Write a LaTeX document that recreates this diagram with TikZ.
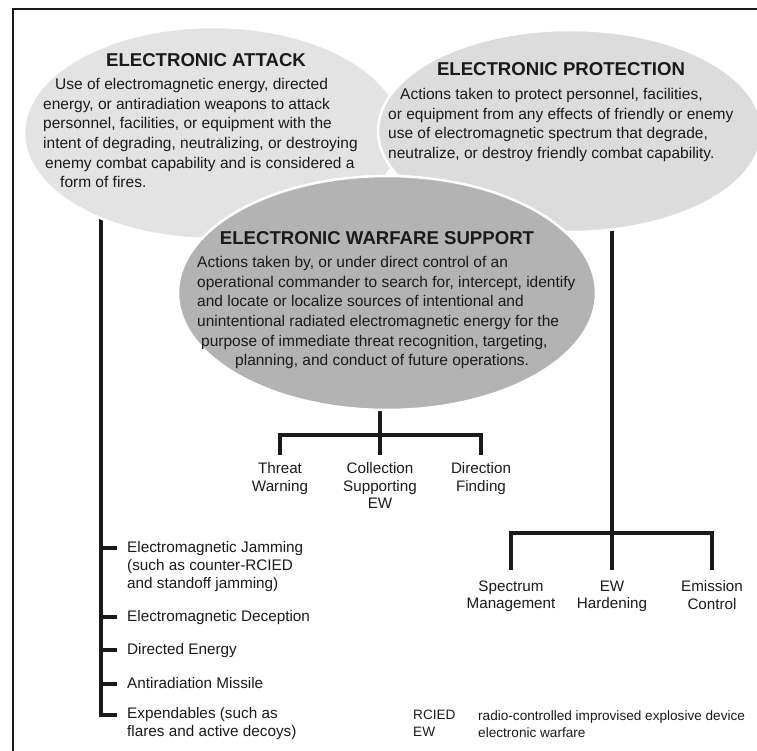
\documentclass[tikz,border=0pt]{standalone}
\usepackage{fontspec}
\setmainfont{Liberation Sans}
\usetikzlibrary{shapes.geometric,backgrounds}
\definecolor{eafill}{HTML}{E3E3E3}
\definecolor{epfill}{HTML}{DCDCDC}
\definecolor{ewsfill}{HTML}{B3B3B3}
\definecolor{ink}{HTML}{1A1A1A}
\begin{document}
\begin{tikzpicture}[x=1pt,y=-1pt,
  bubble/.style={ellipse, draw=white, line width=2.5pt, inner sep=0pt},
  ttl/.style={font=\fontsize{18.6}{22}\selectfont\bfseries, text=ink, inner sep=0pt, anchor=base},
  bodytext/.style={font=\fontsize{15.5}{19.7}\selectfont, text=ink, align=left, inner sep=0pt, anchor=north west},
  leaf/.style={font=\fontsize{15.2}{17.5}\selectfont, text=ink, align=center, inner sep=0pt, anchor=north},
  item/.style={font=\fontsize{15.3}{18}\selectfont, text=ink, align=left, inner sep=0pt, anchor=north west},
  legend/.style={font=\fontsize{13.6}{17}\selectfont, text=ink, align=left, inner sep=0pt, anchor=north west},
  conn/.style={draw=ink, line width=3.5pt, line cap=rect, line join=miter},
  frame/.style={draw=ink, line width=2pt}]
\useasboundingbox (0,0) rectangle (757,751);
% bubbles
\node[bubble, fill=eafill, minimum width=378pt, minimum height=212pt] (ea) at (213,133) {};
\node[bubble, fill=epfill, minimum width=384pt, minimum height=202pt] (ep) at (570,131) {};
\node[bubble, fill=ewsfill, minimum width=418pt, minimum height=234pt] (ews) at (387,293) {};
% titles
\node[ttl] (eat) at (206,67) {ELECTRONIC ATTACK};
\node[ttl] (ept) at (561,76) {ELECTRONIC PROTECTION};
\node[ttl] (ewst) at (377,245) {ELECTRONIC WARFARE SUPPORT};
% bodies
\node[bodytext] (eab) at (43,78) {\hspace*{12pt}Use of electromagnetic energy, directed\\
energy, or antiradiation weapons to attack\\
personnel, facilities, or equipment with the\\
intent of degrading, neutralizing, or destroying\\
\hspace*{2pt}enemy combat capability and is considered a\\
\hspace*{17pt}form of fires.};
\node[bodytext] (epb) at (388,88) {\hspace*{12pt}Actions taken to protect personnel, facilities,\\
or equipment from any effects of friendly or enemy\\
use of electromagnetic spectrum that degrade,\\
neutralize, or destroy friendly combat capability.};
\node[bodytext] (ewsb) at (197,256) {Actions taken by, or under direct control of an\\
operational commander to search for, intercept, identify\\
and locate or localize sources of intentional and\\
unintentional radiated electromagnetic energy for the\\
\hspace*{4pt}purpose of immediate threat recognition, targeting,\\
\hspace*{38pt}planning, and conduct of future operations.};
% EWS leaves
\node[leaf] (tw) at (280,462.5) {Threat\\Warning};
\node[leaf] (cs) at (380,462.5) {Collection\\Supporting\\EW};
\node[leaf] (df) at (481,462.5) {Direction\\Finding};
% EP leaves
\node[leaf] (sm) at (511,580.5) {Spectrum\\Management};
\node[leaf] (eh) at (612,580.5) {EW\\Hardening};
\node[leaf] (ec) at (712,580.5) {Emission\\Control};
% EA items
\node[item] (jam) at (127,541.5) {Electromagnetic Jamming\\(such as counter-RCIED\\and standoff jamming)};
\node[item] (dec) at (127,610.5) {Electromagnetic Deception};
\node[item] (de) at (127,643.5) {Directed Energy};
\node[item] (arm) at (127,677) {Antiradiation Missile};
\node[item] (exp) at (127,707.5) {Expendables (such as\\flares and active decoys)};
% legend
\node[legend] (abbr) at (413,710) {RCIED\\EW};
\node[legend] (defs) at (478,710) {radio-controlled improvised explosive device\\electronic warfare};
% connector coordinates
\coordinate (lx) at (101,0);
\coordinate (lcorner) at (101,715);
\coordinate (lend) at (115,715);
\coordinate (ewsx) at (380,0);
\coordinate (ewsbar) at (380,435);
\coordinate (epx) at (612,0);
\coordinate (epbar) at (612,533);
\begin{scope}[on background layer]
\draw[conn] (lx |- ea.center) -- (lcorner) -- (lend);
\draw[conn] (ewsx |- ews.center) -- (ewsbar);
\draw[conn] (epx |- ep.center) -- (epbar);
\end{scope}
% EA ticks
\foreach \n/\y in {jam/548, dec/617, de/650, arm/684}{
  \draw[conn] (101,\y) -- (115,\y);
}
% EWS tree
\draw[conn] (tw.north |- ewsbar) ++(0,18) -- ++(0,-18) -- (df.north |- ewsbar) -- ++(0,18);
\draw[conn] (ewsbar) -- (cs.north |- 0,453);
% EP tree
\draw[conn] (sm.north |- epbar) ++(0,35) -- ++(0,-35) -- (ec.north |- epbar) -- ++(0,35);
\draw[conn] (epbar) -- (eh.north |- 0,568);
% frame
\draw[frame] (12.5,751) -- (12.5,9.5) -- (757,9.5);
\end{tikzpicture}
\end{document}
